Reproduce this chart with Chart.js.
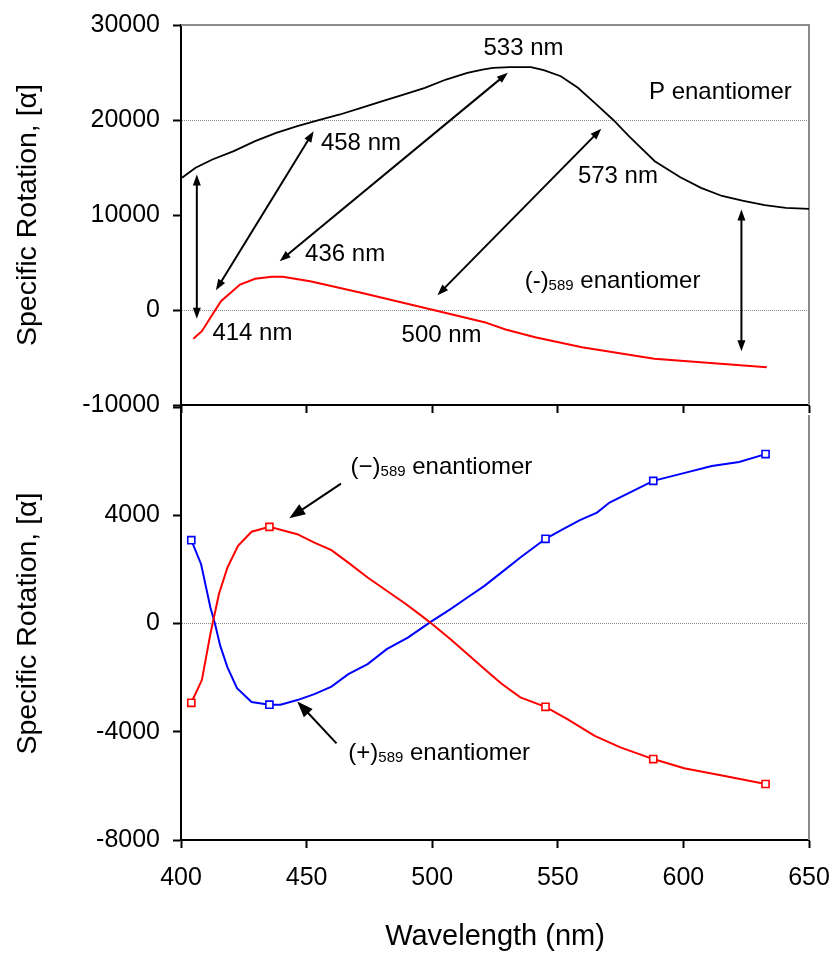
<!DOCTYPE html>
<html><head><meta charset="utf-8">
<script src="https://cdn.jsdelivr.net/npm/chart.js@4"></script>
<style>
html,body{margin:0;padding:0;background:#fff;}
#wrap{position:relative;width:836px;height:954px;overflow:hidden;}
#c1{position:absolute;left:0;top:0;}
#c2{position:absolute;left:0;top:395px;}
</style></head><body>
<div id="wrap">
<canvas id="c1" width="836" height="415"></canvas>
<canvas id="c2" width="836" height="559"></canvas>
</div>
<script>
// ---------- DATA ----------
// Top panel: P enantiomer (black)
const pWavelength = [400.4, 405.8, 412.5, 421, 429.5, 437.9, 446.3, 454.8, 463.3, 471.7, 480.2, 488.6, 497.1, 505.5, 514, 520, 524.2, 530.9, 539.3, 544.4, 551.2, 558, 564.7, 572.1, 578.3, 588.6, 598.6, 607, 615.4, 623.9, 632.4, 640.8, 650];
const pRotation   = [13920, 14970, 15840, 16720, 17770, 18650, 19350, 19980, 20580, 21280, 21980, 22680, 23390, 24260, 24970, 25300, 25490, 25560, 25560, 25240, 24610, 23390, 21810, 20000, 18300, 15660, 14000, 12860, 12000, 11490, 11030, 10760, 10650];
// Top panel: (-)589 enantiomer (red)
const minusTopWavelength = [404.9, 408.3, 415.9, 423.5, 429.5, 436.2, 440.5, 451.4, 471.7, 500.5, 520.8, 529.2, 541, 559.6, 588.4, 633.2];
const minusTopRotation   = [-3030, -2230, 930, 2680, 3280, 3490, 3490, 3030, 1810, 0, -1280, -2050, -2860, -3910, -5140, -6020];
// Bottom panel: (-)589 enantiomer (red)
const minusWavelength = [404.1, 408.3, 411.7, 415.1, 418.5, 422.7, 428.1, 435.2, 446.3, 453.1, 459.9, 466.6, 474.3, 481.9, 489.5, 495.4, 499.7, 507.3, 514, 520.8, 527.5, 535.1, 545.1, 553.8, 564.7, 574.9, 588, 600.3, 615.4, 632.7];
const minusRotation   = [-2930, -2090, -390, 1090, 2070, 2870, 3390, 3570, 3300, 2990, 2710, 2250, 1700, 1210, 720, 310, 0, -580, -1130, -1680, -2220, -2730, -3080, -3530, -4150, -4580, -5010, -5350, -5620, -5930];
// Bottom panel: (+)589 enantiomer (blue)
const plusWavelength = [404.1, 408, 411.7, 413.5, 415.6, 418.5, 422.3, 428.1, 435.2, 439.6, 446.3, 453.1, 459.9, 466.6, 474.3, 481.9, 490.3, 499.7, 507.3, 514, 520.8, 527.5, 535.1, 545.1, 552.1, 558.8, 565.6, 570.6, 580, 588, 598.6, 611.3, 622.2, 632.7];
const plusRotation   = [3080, 2190, 590, 0, -820, -1620, -2390, -2900, -3000, -3000, -2830, -2610, -2330, -1870, -1500, -950, -520, 80, 530, 960, 1390, 1880, 2440, 3130, 3490, 3820, 4100, 4470, 4900, 5270, 5520, 5820, 5970, 6260];
// Measured points (square markers)
const markerWavelength = [404.1, 435.2, 545.1, 588, 632.7];
const minusMarkerRotation = [-2930, 3570, -3080, -5010, -5930];
const plusMarkerRotation  = [3080, -3000, 3130, 5270, 6260];
// Tick labels
const xTicks = [400, 450, 500, 550, 600, 650];
const topYTicks = [-10000, 0, 10000, 20000, 30000];
const bottomYTicks = [-8000, -4000, 0, 4000, 8000];

// ---------- helpers ----------
const FONT = "'Liberation Sans', Arial, Helvetica, sans-serif";
Chart.defaults.font.family = FONT;
Chart.defaults.color = '#000';
const pts = (xs, ys) => xs.map((v, i) => ({x: v, y: ys[i]}));

function annotPlugin(arrows, texts, headLen, headW) {
  return {
    id: 'annot',
    afterDatasetsDraw(chart) {
      const {ctx} = chart; const sx = chart.scales.x, sy = chart.scales.y;
      ctx.save();
      ctx.strokeStyle = '#000'; ctx.fillStyle = '#000'; ctx.lineWidth = 2;
      const head = (tx, ty, ux, uy) => {
        const bx = tx - ux * headLen, by = ty - uy * headLen;
        ctx.beginPath();
        ctx.moveTo(tx, ty);
        ctx.lineTo(bx - uy * headW / 2, by + ux * headW / 2);
        ctx.lineTo(bx + uy * headW / 2, by - ux * headW / 2);
        ctx.closePath(); ctx.fill();
      };
      arrows.forEach(a => {
        const x1 = sx.getPixelForValue(a.from[0]), y1 = sy.getPixelForValue(a.from[1]);
        const x2 = sx.getPixelForValue(a.to[0]), y2 = sy.getPixelForValue(a.to[1]);
        const L = Math.hypot(x2 - x1, y2 - y1), ux = (x2 - x1) / L, uy = (y2 - y1) / L;
        const s1 = a.both ? headLen * 0.8 : 0, s2 = headLen * 0.8;
        ctx.beginPath();
        ctx.moveTo(x1 + ux * s1, y1 + uy * s1);
        ctx.lineTo(x2 - ux * s2, y2 - uy * s2);
        ctx.stroke();
        head(x2, y2, ux, uy);
        if (a.both) head(x1, y1, -ux, -uy);
      });
      ctx.textBaseline = 'alphabetic'; ctx.textAlign = 'left';
      texts.forEach(t => {
        let x = sx.getPixelForValue(t.at[0]); const y = sy.getPixelForValue(t.at[1]);
        t.parts.forEach(p => {
          ctx.font = p.size + 'px ' + FONT;
          ctx.fillText(p.t, x, y + (p.dy || 0));
          x += ctx.measureText(p.t).width;
        });
      });
      ctx.restore();
    }
  };
}
function framePlugin(drawTop) {
  return {
    id: 'frame',
    beforeDatasetsDraw(chart) {
      const {ctx, chartArea: a} = chart;
      ctx.save(); ctx.strokeStyle = '#8c8c8c'; ctx.lineWidth = 2;
      ctx.beginPath();
      if (drawTop) { ctx.moveTo(a.left, a.top); ctx.lineTo(a.right, a.top); }
      else { ctx.moveTo(a.right, a.top + 8); }
      ctx.lineTo(a.right, a.bottom);
      ctx.stroke(); ctx.restore();
    }
  };
}
const big = (s) => [{t: s, size: 24}];
const sub = (a, b, c) => [{t: a, size: 24}, {t: b, size: 15, dy: 2}, {t: c, size: 24}];

const topArrows = [
  {from: [406.3, 14260], to: [406.3, -930], both: true},
  {from: [413.9, 2080], to: [452.8, 18820], both: true},
  {from: [439.3, 5140], to: [530.1, 24970], both: true},
  {from: [502.1, 1560], to: [567.3, 19070], both: true},
  {from: [623.1, 10580], to: [623.1, -4340], both: true}
];
const topTexts = [
  {at: [520.4, 26890], parts: big('533 nm')},
  {at: [586.3, 22160], parts: big('P enantiomer')},
  {at: [455.7, 16890], parts: big('458 nm')},
  {at: [558.0, 13390], parts: big('573 nm')},
  {at: [449.4, 5140], parts: big('436 nm')},
  {at: [536.8, 2340], parts: sub('(-)', '589', ' enantiomer')},
  {at: [412.5, -3180], parts: big('414 nm')},
  {at: [487.8, -3420], parts: big('500 nm')}
];
const bottomArrows = [
  {from: [463.7, 5170], to: [443.1, 3890]},
  {from: [461.9, -4430], to: [446.3, -2880]}
];
const bottomTexts = [
  {at: [467.5, 5540], parts: sub('(\u2212)', '589', ' enantiomer')},
  {at: [466.6, -5030], parts: sub('(+)', '589', ' enantiomer')}
];

const zeroPad = s => { s.paddingLeft = 0; s.paddingRight = 0; s.paddingTop = 0; s.paddingBottom = 0; };

function yScale(min, max, step, ticksList, gridVals, hideVals) {
  return {
    type: 'linear', min, max,
    afterFit: s => { s.width = 181; zeroPad(s); },
    afterBuildTicks: s => { s.ticks = ticksList.map(v => ({value: v})); },
    ticks: {stepSize: step, padding: 13, font: {size: 25}, color: '#000',
      callback: v => hideVals.includes(v) ? '' : String(v)},
    grid: {
      color: c => gridVals.includes(c.tick && c.tick.value) ? '#8a8a8a' : 'rgba(0,0,0,0)',
      lineWidth: 1, tickColor: '#000', tickWidth: 2, tickLength: 8, drawTicks: true
    },
    border: {display: true, color: '#000', width: 2, dash: [1, 1]},
    title: {display: true, text: 'Specific Rotation, [\u03b1]', font: {size: 28.5}, padding: {top: 11, bottom: 0}, color: '#000'}
  };
}
function xScale(showLabels, height) {
  return {
    type: 'linear', min: 400, max: 650,
    afterFit: s => { s.height = height; zeroPad(s); },
    afterBuildTicks: s => { s.ticks = xTicks.map(v => ({value: v})); },
    ticks: {display: showLabels, stepSize: 50, padding: 15, font: {size: 25}, color: '#000', maxRotation: 0},
    grid: {drawOnChartArea: false, color: '#000', tickColor: '#000', tickWidth: 2, tickLength: 8},
    border: {display: true, color: '#000', width: 2},
    title: {display: showLabels, text: 'Wavelength (nm)', font: {size: 29}, padding: {top: 0, bottom: 0}, color: '#000'}
  };
}
const common = {
  responsive: false, animation: false, events: [],
  plugins: {legend: {display: false}, tooltip: {enabled: false}},
  elements: {point: {radius: 0}, line: {tension: 0}}
};

new Chart(document.getElementById('c1'), {
  type: 'line',
  data: {datasets: [
    {data: pts(minusTopWavelength, minusTopRotation), borderColor: '#ff0000', borderWidth: 2, pointRadius: 0, fill: false},
    {data: pts(pWavelength, pRotation), borderColor: '#000', borderWidth: 1.8, pointRadius: 0, fill: false}
  ]},
  options: Object.assign({}, common, {
    layout: {padding: {left: 0, right: 27, top: 25, bottom: 0}},
    scales: {x: xScale(false, 10), y: yScale(-10000, 30000, 10000, topYTicks, [0, 20000], [])}
  }),
  plugins: [framePlugin(true), annotPlugin(topArrows, topTexts, 11, 8)]
});

new Chart(document.getElementById('c2'), {
  type: 'line',
  data: {datasets: [
    {data: pts(markerWavelength, minusMarkerRotation), showLine: false, pointStyle: 'rect', pointRadius: 5, pointBorderWidth: 1.6, pointBorderColor: '#ff0000', pointBackgroundColor: '#fff'},
    {data: pts(markerWavelength, plusMarkerRotation), showLine: false, pointStyle: 'rect', pointRadius: 5, pointBorderWidth: 1.6, pointBorderColor: '#0000ff', pointBackgroundColor: '#fff'},
    {data: pts(minusWavelength, minusRotation), borderColor: '#ff0000', borderWidth: 2, pointRadius: 0, fill: false},
    {data: pts(plusWavelength, plusRotation), borderColor: '#0000ff', borderWidth: 2, pointRadius: 0, fill: false}
  ]},
  options: Object.assign({}, common, {
    layout: {padding: {left: 0, right: 27, top: 12, bottom: 0}},
    scales: {x: xScale(true, 114), y: yScale(-8000, 8000, 4000, bottomYTicks, [0], [8000])}
  }),
  plugins: [framePlugin(false), annotPlugin(bottomArrows, bottomTexts, 16, 12)]
});
</script>
</body></html>
